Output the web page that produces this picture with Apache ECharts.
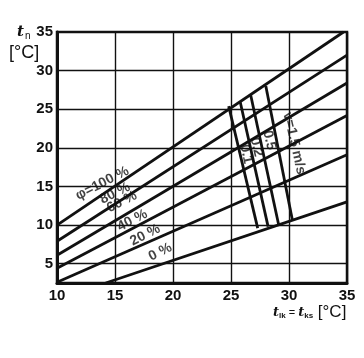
<!DOCTYPE html>
<html>
<head>
<meta charset="utf-8">
<script src="https://cdn.jsdelivr.net/npm/echarts@6/dist/echarts.min.js"></script>
<style>html,body{margin:0;padding:0;background:#fff;}#c{width:364px;height:358px;}</style>
</head>
<body>
<div id="c"></div>
<script>
// axis ticks
const xTicks = [10, 15, 20, 25, 30, 35];
const yTicks = [5, 10, 15, 20, 25, 30, 35];
const yGridLines = [5, 10, 15, 20, 25, 30];

// relative humidity lines (phi), [t_lk, t_n] end points
const phiNames = ['φ=100 %', '80 %', '60 %', '40 %', '20 %', '0 %'];
const phi100 = [[10, 10], [34.7, 35]];
const phi80 = [[10, 7.9], [35, 32]];
const phi60 = [[10, 6.1], [35, 28.4]];
const phi40 = [[10, 4.4], [35, 24.2]];
const phi20 = [[10, 2.6], [35, 19.1]];
const phi0 = [[14.2, 2.5], [35, 13]];

// air velocity lines (v)
const vNames = ['0.1', '0.2', '0.5', 'v=1.5 m/s'];
const v01 = [[24.8, 25.4], [27.3, 9.6]];
const v02 = [[25.8, 25.9], [28.2, 9.8]];
const v05 = [[26.7, 26.8], [29.1, 10.1]];
const v15 = [[28.0, 28.0], [30.3, 10.6]];

// label anchor points
const phiLabelPos = [[13.9, 15.4], [15.0, 14.1], [15.6, 13.0], [16.5, 10.6], [17.6, 8.7], [18.9, 6.5]];
const vLabelPos = [[26.3, 19.2], [27.2, 20.1], [28.3, 21.0], [30.45, 20.6]];

const phiLines = [phi100, phi80, phi60, phi40, phi20, phi0];
const vLines = [v01, v02, v05, v15];

const FONT = 'Liberation Sans';
const lineSeries = [];
phiLines.concat(vLines).forEach((d, i) => {
  lineSeries.push({
    type: 'line', data: d, symbol: 'none', silent: true, clip: true,
    lineStyle: { color: '#111', width: 2.8 }, z: 3
  });
});
lineSeries[0].markLine = {
  silent: true, symbol: 'none', label: { show: false },
  lineStyle: { color: '#111', width: 1.4, type: 'solid' },
  data: yGridLines.map(v => ({ yAxis: v })), z: 1
};

const labelData = [];
phiNames.forEach((n, i) => labelData.push({ value: phiLabelPos[i], name: n, label: { formatter: n, rotate: 27 } }));
vNames.forEach((n, i) => labelData.push({ value: vLabelPos[i], name: n, label: { formatter: n, rotate: -77 } }));

lineSeries.push({
  type: 'scatter', symbolSize: 0, silent: true, z: 5,
  data: labelData,
  label: { show: true, position: 'inside', color: '#111', fontFamily: FONT, fontSize: 14, fontWeight: 'bold' }
});

const chart = echarts.init(document.getElementById('c'));
chart.setOption({
  backgroundColor: '#fff',
  animation: false,
  grid: { left: 57, right: 17, top: 32, bottom: 75, show: true, borderColor: '#111', borderWidth: 2.5, backgroundColor: 'transparent' },
  xAxis: {
    type: 'value', min: xTicks[0], max: xTicks[xTicks.length - 1], interval: 5,
    axisLine: { show: true, lineStyle: { color: '#111', width: 3 } },
    axisTick: { show: false },
    splitLine: { show: true, lineStyle: { color: '#111', width: 1.4 } },
    axisLabel: { color: '#111', fontFamily: FONT, fontSize: 15, fontWeight: 'bold', margin: 5 }
  },
  yAxis: {
    type: 'value', min: 2.5, max: yTicks[yTicks.length - 1], interval: 2.5,
    axisLine: { show: true, lineStyle: { color: '#111', width: 3 } },
    axisTick: { show: false },
    splitLine: { show: false },
    axisLabel: { color: '#111', fontFamily: FONT, fontSize: 15, fontWeight: 'bold', margin: 4,
      formatter: v => (yTicks.indexOf(v) >= 0 ? String(v) : '') }
  },
  graphic: [
    { type: 'text', left: 17, top: 25, style: { text: '{t|t}{s|n}', rich: {
      t: { fontFamily: 'DejaVu Serif', fontStyle: 'italic', fontWeight: 'bold', fontSize: 15, fill: '#111' },
      s: { fontFamily: FONT, fontSize: 10, fill: '#111', padding: [8, 0, 0, 1] } } } },
    { type: 'text', left: 9, top: 44, style: { text: '[°C]', fontFamily: FONT, fontSize: 18, fill: '#111' } },
    { type: 'text', left: 273, top: 304, style: { text: '{t|t}{s|lk}{e| = }{t|t}{s|ks}{b| [°C]}', rich: {
      t: { fontFamily: 'DejaVu Serif', fontStyle: 'italic', fontWeight: 'bold', fontSize: 13, fill: '#111' },
      s: { fontFamily: FONT, fontSize: 8, fontWeight: 'bold', fill: '#111', padding: [6, 0, 0, 0] },
      e: { fontFamily: FONT, fontSize: 11, fill: '#111' },
      b: { fontFamily: FONT, fontSize: 17, fill: '#111' } } } }
  ],
  series: lineSeries
});
</script>
</body>
</html>
